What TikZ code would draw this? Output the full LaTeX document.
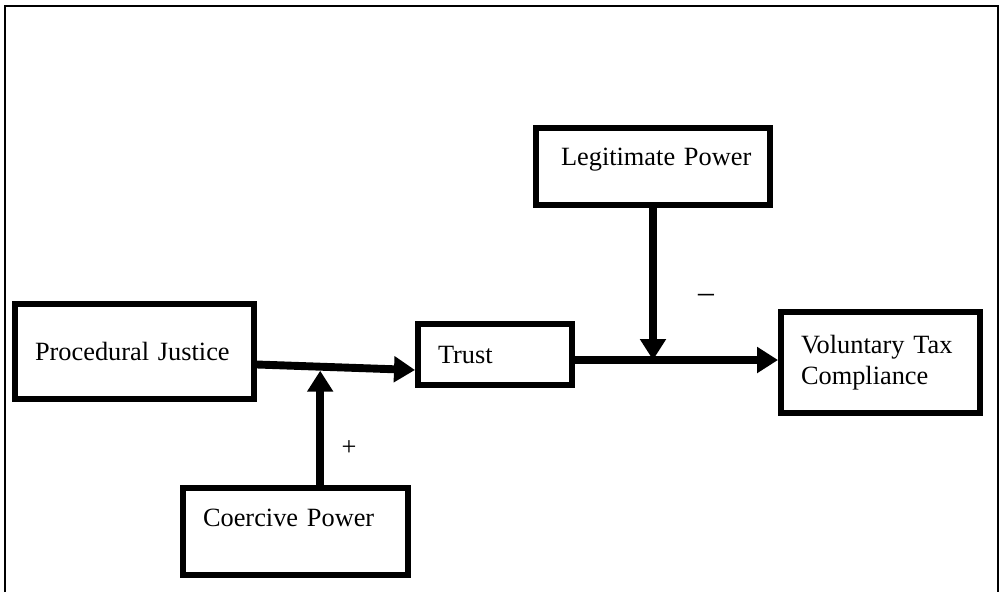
\documentclass[tikz,border=0pt]{standalone}
\usepackage{fontspec}
\setmainfont{Liberation Serif}
\usetikzlibrary{arrows.meta,calc}

\begin{document}
\begin{tikzpicture}[x=0.02cm, y=-0.02cm,
  box/.style={draw, rectangle, line width=3.4pt, inner xsep=0.4cm, inner ysep=0pt,
    align=left, font=\fontsize{15}{17.6}\selectfont},
  flow/.style={-{Triangle[length=0.42cm,width=0.5cm]}, line width=4.5pt},
  sign/.style={font=\fontsize{15}{17.6}\selectfont, inner sep=0pt}]
\useasboundingbox (0,0) rectangle (1000,592);
\draw[line width=1.5pt] (5,592) -- (5,6) -- (998,6) -- (998,592);

% boxes
\node (pj) [box, text width=3.98cm, minimum height=1.9cm] at (134.5,351.5) {Procedural Justice};
\node (tr) [box, text width=2.28cm, minimum height=1.22cm] at (495,354.5) {Trust};
\node (vtc) [box, text width=3.18cm, minimum height=2.02cm] at (880.5,362.5) {Voluntary Tax\\Compliance};
\node (lp) [box, inner xsep=0.5cm, text width=3.68cm, minimum height=1.54cm, text depth=0.4cm] at (653,166.5) {\mbox{Legitimate Power}};
\node (cp) [box, text width=3.7cm, minimum height=1.74cm, text depth=0.56cm] at (295.5,531.5) {Coercive Power};

% connection points
\coordinate (pjout) at ([yshift=-0.26cm]pj.east);
\coordinate (trin) at ([yshift=-0.31cm]tr.west);
\coordinate (trout) at ([yshift=-0.11cm]tr.east);
\coordinate (modA) at ($(pjout)!0.4!(trin)$);
\coordinate (modB) at (lp.south |- trout);

\draw[flow] (pjout) -- (trin);
\draw[flow] (trout) -- (trout -| vtc.west);
\draw[flow] (modA |- cp.north) -- ([yshift=-0.08cm]modA);
\draw[flow] (lp.south) -- (modB);

\node (plus) [sign] at (349,448) {+};
\node (minus) [sign, font=\fontsize{18}{20}\selectfont] at (706,298) {–};
\end{tikzpicture}
\end{document}
